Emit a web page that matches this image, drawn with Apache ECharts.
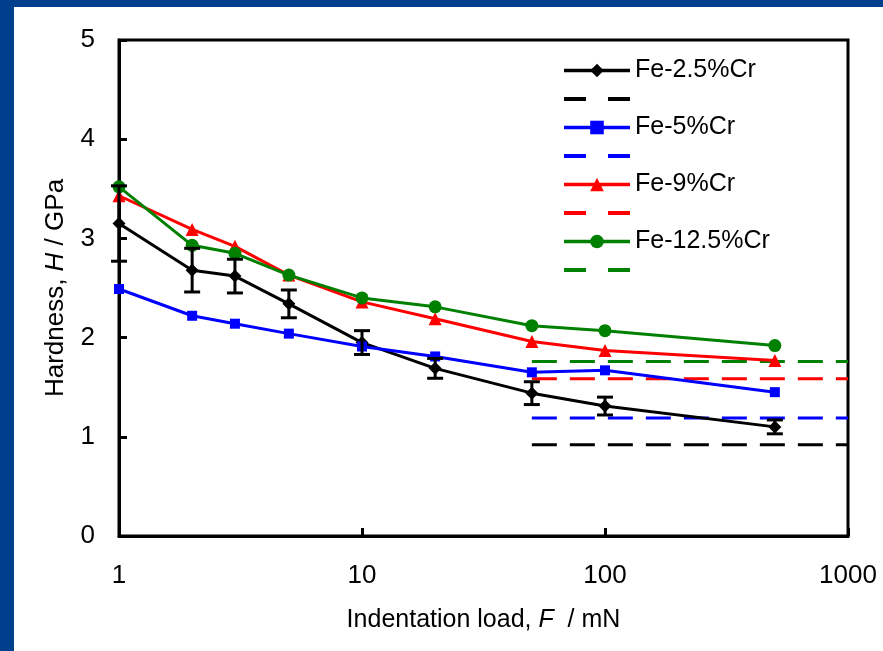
<!DOCTYPE html>
<html>
<head>
<meta charset="utf-8">
<script src="https://cdn.jsdelivr.net/npm/echarts@6/dist/echarts.min.js"></script>
<style>
  html, body { margin: 0; padding: 0; background: #003f8c; }
  #chart { position: absolute; left: 14px; top: 7px; width: 869px; height: 644px; background: #fff; }
</style>
</head>
<body>
<div id="chart"></div>
<script>
// indentation loads (mN)
const loads = [1, 2, 3, 5, 10, 20, 50, 100, 500]

const fe25 = [3.15, 2.68, 2.62, 2.34, 1.95, 1.69, 1.44, 1.31, 1.10]
const fe25Err = [0.38, 0.22, 0.17, 0.14, 0.12, 0.10, 0.115, 0.09, 0.07]
const fe5 = [2.49, 2.22, 2.14, 2.04, 1.91, 1.81, 1.65, 1.67, 1.45]
const fe9 = [3.43, 3.09, 2.92, 2.63, 2.36, 2.19, 1.96, 1.87, 1.77]
const fe125 = [3.52, 2.93, 2.85, 2.63, 2.40, 2.31, 2.12, 2.07, 1.92]

// dashed reference levels, drawn from 50 to 1000 mN
const refRange = [50, 1000]
const refLevels = [0.92, 1.19, 1.585, 1.76]

const names = ['Fe-2.5%Cr', 'Fe-5%Cr', 'Fe-9%Cr', 'Fe-12.5%Cr']
const refNames = ['ref-2.5', 'ref-5', 'ref-9', 'ref-12.5']
const colors = ['#000000', '#0000ff', '#ff0000', '#008000']
const symbols = ['diamond', 'rect', 'triangle', 'circle']
const symbolSizes = [13, 10, 13, 13]
const values = [fe25, fe5, fe9, fe125]

const chart = echarts.init(document.getElementById('chart'))

const series = []
values.forEach((v, i) => {
  series.push({
    name: names[i],
    type: 'line',
    data: loads.map((x, k) => [x, v[k]]),
    symbol: symbols[i],
    symbolSize: symbolSizes[i],
    lineStyle: { color: colors[i], width: 3 },
    itemStyle: { color: colors[i] },
    z: 3 + i,
  })
  series.push({
    name: refNames[i],
    type: 'line',
    data: refRange.map((x) => [x, refLevels[i]]),
    symbol: 'none',
    lineStyle: { color: colors[i], width: 3, type: [25, 13] },
    itemStyle: { color: colors[i] },
    z: 2,
  })
})

// error bars of Fe-2.5%Cr
series.push({
  type: 'custom',
  z: 10,
  data: loads.map((x, k) => [x, fe25[k] - fe25Err[k], fe25[k] + fe25Err[k]]),
  renderItem: (params, api) => {
    const lo = api.coord([api.value(0), api.value(1)])
    const hi = api.coord([api.value(0), api.value(2)])
    const w = 8
    const style = { stroke: '#000', lineWidth: 3 }
    return {
      type: 'group',
      children: [
        { type: 'line', shape: { x1: lo[0], y1: lo[1], x2: hi[0], y2: hi[1] }, style },
        { type: 'line', shape: { x1: lo[0] - w, y1: lo[1], x2: lo[0] + w, y2: lo[1] }, style },
        { type: 'line', shape: { x1: hi[0] - w, y1: hi[1], x2: hi[0] + w, y2: hi[1] }, style },
      ],
    }
  },
})

const legendData = []
names.forEach((n, i) => {
  legendData.push({ name: n, lineStyle: { width: 3.5 } })
  legendData.push({
    name: refNames[i],
    itemStyle: { opacity: 0 },
    lineStyle: { width: 4, type: [22, 22], color: colors[i] },
  })
})

chart.setOption({
  animation: false,
  textStyle: { fontFamily: 'Liberation Sans, Arial, sans-serif' },
  grid: {
    left: 105, right: 35, top: 33, bottom: 115,
    show: true, borderColor: '#000', borderWidth: 3,
  },
  legend: {
    orient: 'vertical',
    left: 543,
    top: 46,
    data: legendData,
    itemWidth: 66,
    itemHeight: 17,
    itemGap: 3.5,
    selectedMode: false,
    formatter: (n) => (refNames.includes(n) ? ' ' : n),
    textStyle: { fontSize: 25, color: '#000' },
  },
  xAxis: {
    type: 'log',
    logBase: 10,
    min: 1,
    max: 1000,
    name: 'Indentation load, {i|F}  / mN',
    nameLocation: 'middle',
    nameGap: 72,
    nameTextStyle: {
      fontSize: 25, color: '#000',
      rich: { i: { fontSize: 25, fontStyle: 'italic', color: '#000' } },
    },
    axisLine: { lineStyle: { color: '#000', width: 3 } },
    axisTick: { inside: true, length: 8, lineStyle: { width: 3 } },
    axisLabel: { fontSize: 26, color: '#000', margin: 27, formatter: (v) => String(Math.round(v)) },
    splitLine: { show: false },
  },
  yAxis: {
    type: 'value',
    min: 0,
    max: 5,
    interval: 1,
    name: 'Hardness, {i|H} / GPa',
    nameLocation: 'middle',
    nameGap: 50,
    nameTextStyle: {
      fontSize: 26, color: '#000',
      rich: { i: { fontSize: 26, fontStyle: 'italic', color: '#000' } },
    },
    axisLine: { lineStyle: { color: '#000', width: 3 } },
    axisTick: { inside: true, length: 8, lineStyle: { width: 3 } },
    axisLabel: { fontSize: 26, color: '#000', margin: 24 },
    splitLine: { show: false },
  },
  series,
})
</script>
</body>
</html>
